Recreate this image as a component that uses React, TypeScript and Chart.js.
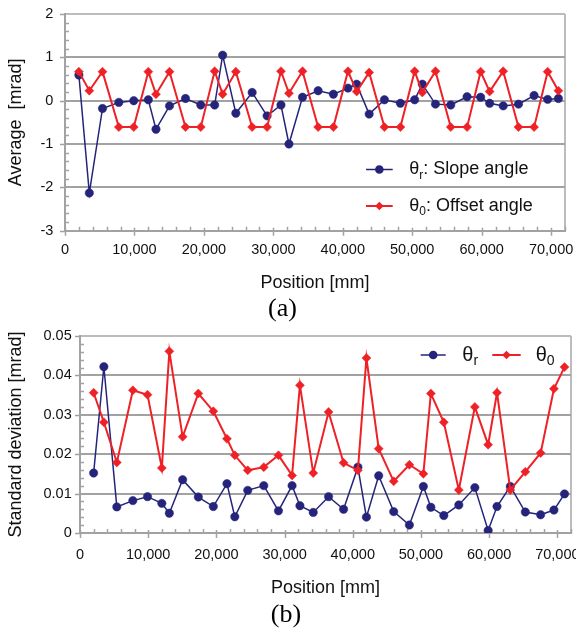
import React, { useEffect, useRef } from 'react';
import { Chart, registerables } from 'chart.js';

Chart.register(...registerables);

// ---------- data ----------
const positions = [2000, 3500, 5400, 7750, 9900, 12000, 13100, 15050, 17350, 19550, 21550, 22700, 24600, 26950, 29100, 31100, 32250, 34200, 36450, 38650, 40750, 42000, 43800, 46000, 48300, 50350, 51450, 53350, 55550, 57900, 59850, 61150, 63100, 65300, 67550, 69500, 71050];

const avgSlope = [0.59, -2.13, -0.18, -0.04, 0.0, 0.02, -0.66, -0.12, 0.05, -0.10, -0.10, 1.05, -0.29, 0.19, -0.35, -0.10, -1.00, 0.08, 0.23, 0.15, 0.29, 0.38, -0.31, 0.02, -0.06, 0.02, 0.38, -0.08, -0.10, 0.09, 0.08, -0.06, -0.12, -0.08, 0.12, 0.03, 0.05];

const avgOffset = [0.67, 0.23, 0.67, -0.61, -0.61, 0.67, 0.15, 0.67, -0.61, -0.61, 0.68, 0.15, 0.67, -0.61, -0.61, 0.68, 0.17, 0.68, -0.61, -0.61, 0.68, 0.21, 0.65, -0.61, -0.61, 0.68, 0.19, 0.68, -0.61, -0.61, 0.67, 0.21, 0.68, -0.61, -0.61, 0.67, 0.23];

const sdSlope = [0.0152, 0.0422, 0.0066, 0.0082, 0.0092, 0.0075, 0.0050, 0.0135, 0.0091, 0.0067, 0.0125, 0.0041, 0.0108, 0.0120, 0.0056, 0.0120, 0.0069, 0.0052, 0.0092, 0.0060, 0.0167, 0.0040, 0.0145, 0.0054, 0.0020, 0.0118, 0.0065, 0.0044, 0.0071, 0.0115, 0.0006, 0.0067, 0.0118, 0.0053, 0.0046, 0.0058, 0.0099];

const sdOffset = [0.0356, 0.0281, 0.0179, 0.0362, 0.0351, 0.0165, 0.0461, 0.0244, 0.0354, 0.0309, 0.0239, 0.0197, 0.0159, 0.0167, 0.0197, 0.0146, 0.0375, 0.0152, 0.0307, 0.0178, 0.0159, 0.0444, 0.0214, 0.0131, 0.0173, 0.0150, 0.0354, 0.0281, 0.0109, 0.0320, 0.0224, 0.0356, 0.0109, 0.0155, 0.0203, 0.0366, 0.0421];

const xMin = 0;
const xMax = 72000;
const xStep = 2000;
const xLabelEvery = 10000;
const xLabelMax = 70000;

const avgMin = -3;
const avgMax = 2;
const avgStep = 0.2;

const sdMin = 0;
const sdMax = 0.05;
const sdStep = 0.002;

const xTitle = 'Position [mm]';
const avgTitle = 'Average  [mrad]';
const sdTitle = 'Standard deviation [mrad]';
const captionA = '(a)';
const captionB = '(b)';
const legendSlopeA = ': Slope angle';
const legendOffsetA = ': Offset angle';

// ---------- styles ----------
const GRID = '#a2a2a2';
const BOX = '#bcbcbc';
const BLUE = '#25247a';
const RED = '#ee2127';
const TEXT = '#111111';
const SANS = '"Liberation Sans", Arial, sans-serif';
const SERIF = '"Liberation Serif", "Times New Roman", serif';

const isMult = (v: number, m: number) => Math.abs(v / m - Math.round(v / m)) < 1e-6;

function xLabel(v: number) {
  if (isMult(v, xLabelEvery) && v <= xLabelMax + 1e-6) {
    return Math.round(v).toLocaleString('en-US');
  }
  return '';
}

const tickMarks = {
  id: 'tickMarks',
  beforeDatasetsDraw(chart: any) {
    const ctx = chart.ctx;
    const { left, bottom } = chart.chartArea;
    const xs = chart.scales.x;
    const ys = chart.scales.y;
    ctx.save();
    ctx.strokeStyle = GRID;
    ctx.lineWidth = 1.5;
    ctx.beginPath();
    xs.ticks.forEach((t: any) => {
      const p = Math.round(xs.getPixelForValue(t.value)) + 0.5;
      if (t.label !== '') {
        ctx.moveTo(p, bottom - 3);
        ctx.lineTo(p, bottom + 5);
      } else {
        ctx.moveTo(p, bottom - 4);
        ctx.lineTo(p, bottom);
      }
    });
    ys.ticks.forEach((t: any) => {
      const p = Math.round(ys.getPixelForValue(t.value)) + 0.5;
      if (t.label !== '') {
        ctx.moveTo(left - 5, p);
        ctx.lineTo(left, p);
      } else {
        ctx.moveTo(left, p);
        ctx.lineTo(left + 4, p);
      }
    });
    ctx.stroke();
    ctx.restore();
  },
};

function drawSample(ctx: any, x1: number, x2: number, y: number, color: string, shape: 'circle' | 'diamond', lw: number) {
  ctx.save();
  ctx.strokeStyle = color;
  ctx.fillStyle = color;
  ctx.lineWidth = lw;
  ctx.beginPath();
  ctx.moveTo(x1, y);
  ctx.lineTo(x2, y);
  ctx.stroke();
  const cx = (x1 + x2) / 2;
  ctx.beginPath();
  if (shape === 'circle') {
    ctx.arc(cx, y, 4.3, 0, Math.PI * 2);
  } else {
    const r = 4.3;
    ctx.moveTo(cx - r, y);
    ctx.lineTo(cx, y - r);
    ctx.lineTo(cx + r, y);
    ctx.lineTo(cx, y + r);
    ctx.closePath();
  }
  ctx.fill();
  ctx.restore();
}

function drawTheta(ctx: any, x: number, y: number, sub: string, size: number, rest: string) {
  ctx.save();
  ctx.fillStyle = TEXT;
  ctx.textBaseline = 'middle';
  ctx.textAlign = 'left';
  ctx.font = `${size}px ${SANS}`;
  ctx.fillText('θ', x, y);
  let w = ctx.measureText('θ').width;
  ctx.font = `${Math.round(size * 0.68)}px ${SANS}`;
  ctx.fillText(sub, x + w, y + size * 0.32);
  w += ctx.measureText(sub).width;
  if (rest) {
    ctx.font = `${size}px ${SANS}`;
    ctx.fillText(rest, x + w, y);
  }
  ctx.restore();
}

const legendA = {
  id: 'legendA',
  afterDraw(chart: any) {
    const ctx = chart.ctx;
    const r = chart.chartArea.right;
    drawSample(ctx, r - 199, r - 172.3, 169.5, BLUE, 'circle', 1.5);
    drawTheta(ctx, r - 155.7, 169.5, 'r', 18, legendSlopeA);
    drawSample(ctx, r - 199, r - 172.3, 206, RED, 'diamond', 2);
    drawTheta(ctx, r - 155.7, 206, '0', 18, legendOffsetA);
  },
};

const legendB = {
  id: 'legendB',
  afterDraw(chart: any) {
    const ctx = chart.ctx;
    const r = chart.chartArea.right;
    const y = 33;
    drawSample(ctx, r - 150.3, r - 125.3, y, BLUE, 'circle', 1.5);
    drawTheta(ctx, r - 108.7, y, 'r', 20, '');
    drawSample(ctx, r - 78.7, r - 50.3, y, RED, 'diamond', 2);
    drawTheta(ctx, r - 35.3, y, '0', 20, '');
  },
};

function makeDatasets(blue: number[], red: number[]) {
  return [
    {
      label: 'θr',
      data: positions.map((x, i) => ({ x, y: blue[i] })),
      borderColor: BLUE,
      backgroundColor: BLUE,
      borderWidth: 1.5,
      pointRadius: 4.2,
      pointBorderWidth: 0.5,
      pointStyle: 'circle',
      tension: 0,
      order: 1,
    },
    {
      label: 'θ0',
      data: positions.map((x, i) => ({ x, y: red[i] })),
      borderColor: RED,
      backgroundColor: RED,
      borderWidth: 2,
      pointRadius: 4.5,
      pointBorderWidth: 0.5,
      pointStyle: 'rectRot',
      tension: 0,
      order: 0,
    },
  ];
}

function makeConfig(opts: any) {
  const { blue, red, yMin, yMax, yStep, yLabelEvery, yFmt, yTitle, caption, yWidth, xHeight, padding, yTickPad, xTickPad, captionPadTop, legend } = opts;
  return {
    type: 'line',
    data: { datasets: makeDatasets(blue, red) },
    options: {
      animation: false,
      responsive: false,
      devicePixelRatio: 1,
      events: [],
      layout: { padding },
      plugins: {
        legend: { display: false },
        tooltip: { enabled: false },
        title: {
          display: true,
          text: caption,
          position: 'bottom',
          color: '#000',
          font: { family: SERIF, size: 26, weight: 'normal', lineHeight: 1 },
          padding: { top: captionPadTop, bottom: 0 },
        },
      },
      scales: {
        x: {
          type: 'linear',
          min: xMin,
          max: xMax,
          afterFit: (s: any) => {
            s.height = xHeight;
            s.paddingLeft = 0;
            s.paddingRight = 0;
          },
          border: { display: true, color: GRID, width: 2 },
          grid: {
            drawTicks: false,
            lineWidth: 2,
            color: (c: any) => (c.tick && Math.abs(c.tick.value - xMax) < 1e-6 ? BOX : 'rgba(0,0,0,0)'),
          },
          ticks: {
            stepSize: xStep,
            autoSkip: false,
            maxRotation: 0,
            minRotation: 0,
            maxTicksLimit: 1000,
            padding: xTickPad,
            color: TEXT,
            font: { family: SANS, size: 14.5 },
            callback: (v: any) => xLabel(Number(v)),
          },
          title: {
            display: true,
            text: xTitle,
            color: TEXT,
            font: { family: SANS, size: 18, lineHeight: 1.2 },
            padding: { top: 0, bottom: 0 },
          },
        },
        y: {
          type: 'linear',
          min: yMin,
          max: yMax,
          afterFit: (s: any) => {
            s.width = yWidth;
            s.paddingTop = 0;
            s.paddingBottom = 0;
          },
          border: { display: true, color: GRID, width: 2 },
          grid: {
            drawTicks: false,
            lineWidth: 2,
            color: (c: any) => {
              if (!c.tick) return 'rgba(0,0,0,0)';
              const v = c.tick.value;
              if (Math.abs(v - yMax) < 1e-9) return BOX;
              return isMult(v, yLabelEvery) ? GRID : 'rgba(0,0,0,0)';
            },
          },
          ticks: {
            stepSize: yStep,
            autoSkip: false,
            maxTicksLimit: 1000,
            padding: yTickPad,
            color: TEXT,
            font: { family: SANS, size: 14.5 },
            callback: (v: any) => {
              const n = Number(v);
              return isMult(n, yLabelEvery) ? yFmt(n) : '';
            },
          },
          title: {
            display: true,
            text: yTitle,
            color: TEXT,
            font: { family: SANS, size: 18, lineHeight: 1.2 },
            padding: { top: 5, bottom: 0 },
          },
        },
      },
    },
    plugins: [tickMarks, legend],
  };
}

function ChartCanvas({ config, width, height }: { config: any; width: number; height: number }) {
  const ref = useRef<HTMLCanvasElement | null>(null);
  useEffect(() => {
    if (!ref.current) return;
    const chart = new Chart(ref.current, config);
    return () => chart.destroy();
  }, [config]);
  return <canvas ref={ref} width={width} height={height} style={{ display: 'block', width, height }} />;
}

const configA = makeConfig({
  blue: avgSlope,
  red: avgOffset,
  yMin: avgMin,
  yMax: avgMax,
  yStep: avgStep,
  yLabelEvery: 1,
  yFmt: (n: number) => String(Math.round(n)),
  yTitle: avgTitle,
  caption: captionA,
  yWidth: 65,
  xHeight: 62.8,
  padding: { top: 14, right: 11, left: 0, bottom: 0 },
  yTickPad: 11.7,
  xTickPad: 10.5,
  captionPadTop: 2.5,
  legend: legendA,
});

const configB = makeConfig({
  blue: sdSlope,
  red: sdOffset,
  yMin: sdMin,
  yMax: sdMax,
  yStep: sdStep,
  yLabelEvery: 0.01,
  yFmt: (n: number) => (Math.abs(n) < 1e-9 ? '0' : n.toFixed(2)),
  yTitle: sdTitle,
  caption: captionB,
  yWidth: 80,
  xHeight: 65.6,
  padding: { top: 14, right: 4, left: 0, bottom: 1 },
  yTickPad: 8.3,
  xTickPad: 13,
  captionPadTop: 3.5,
  legend: legendB,
});

export default function App() {
  return (
    <div style={{ position: 'absolute', left: 0, top: 0, width: 576, height: 629, background: '#fff' }}>
      <ChartCanvas config={configA} width={576} height={322} />
      <ChartCanvas config={configB} width={576} height={307} />
    </div>
  );
}
